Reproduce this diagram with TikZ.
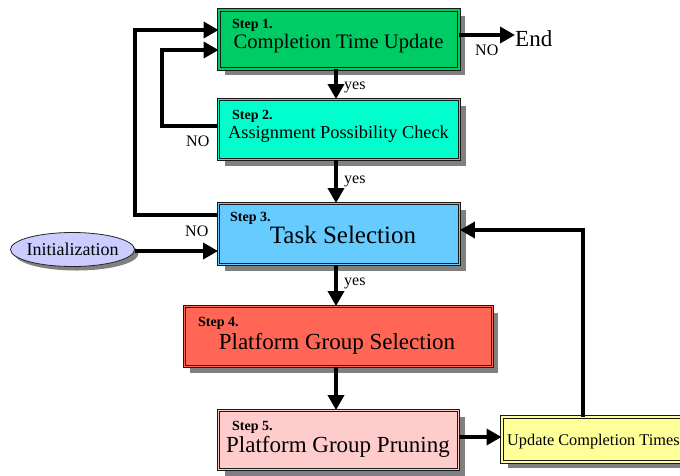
\documentclass[tikz,border=0pt]{standalone}
\usepackage{fontspec}
\setmainfont{Liberation Serif}
\usetikzlibrary{arrows.meta,shadows,shapes.geometric}

\definecolor{cgreen}{RGB}{0,204,102}
\definecolor{caqua}{RGB}{0,255,204}
\definecolor{csky}{RGB}{102,204,255}
\definecolor{csalmon}{RGB}{255,102,85}
\definecolor{cpink}{RGB}{255,204,204}
\definecolor{cyellow}{RGB}{255,255,153}
\definecolor{clav}{RGB}{204,204,255}
\definecolor{cshade}{RGB}{128,128,128}

\tikzset{
  stepbox/.style={draw=black!90, line width=0.9pt, double distance=1.3pt,
    inner sep=0pt, drop shadow={shadow xshift=6pt, shadow yshift=-6pt,
    fill=cshade, opacity=1}},
  ovalbox/.style={ellipse, draw=black!85, line width=0.8pt, inner sep=0pt,
    drop shadow={shadow xshift=4pt, shadow yshift=-4pt, fill=cshade, opacity=1}},
  lbl/.style={inner sep=0pt, anchor=base},
  steplbl/.style={inner sep=0pt, anchor=base west, font=\fontsize{14}{14}\selectfont\bfseries},
  small/.style={inner sep=0pt, anchor=base west, font=\fontsize{16}{16}\selectfont},
  arr/.style={line width=3.5pt, -{Triangle[length=15pt,width=16pt]}}
}

\begin{document}
\begin{tikzpicture}[x=1pt,y=-1pt]
\useasboundingbox (0,0) rectangle (680,475);

% process boxes
\node[stepbox, fill=cgreen, double=cgreen, minimum width=240pt, minimum height=59pt] (s1) at (339,39.5) {};
\node[stepbox, fill=caqua, double=caqua, minimum width=241pt, minimum height=60pt] (s2) at (339.3,129.5) {};
\node[stepbox, fill=csky, double=csky, minimum width=241pt, minimum height=61pt] (s3) at (339,234) {};
\node[stepbox, fill=csalmon, double=csalmon, minimum width=308pt, minimum height=60pt] (s4) at (338.3,336.5) {};
\node[stepbox, fill=cpink, double=cpink, minimum width=240pt, minimum height=59pt] (s5) at (338.5,440) {};
\node[stepbox, fill=cyellow, double=cyellow, minimum width=182pt, minimum height=45pt] (upd) at (593,439.5) {};
\node[ovalbox, fill=clav, minimum width=124pt, minimum height=34pt] (init) at (72.5,249.5) {};

% box texts
\node[steplbl] (t1a) at (232,28) {Step 1.};
\node[lbl, font=\fontsize{20.6}{20.6}\selectfont] (t1b) at (338.5,48) {Completion Time Update};
\node[steplbl] (t2a) at (232,119) {Step 2.};
\node[lbl, font=\fontsize{18.3}{18.3}\selectfont] (t2b) at (338.5,138) {Assignment Possibility Check};
\node[steplbl] (t3a) at (230,221) {Step 3.};
\node[lbl, font=\fontsize{25}{25}\selectfont] (t3b) at (343,243) {Task Selection};
\node[steplbl] (t4a) at (198,326) {Step 4.};
\node[lbl, font=\fontsize{23}{23}\selectfont] (t4b) at (337,349) {Platform Group Selection};
\node[steplbl] (t5a) at (232,430) {Step 5.};
\node[lbl, font=\fontsize{23}{23}\selectfont] (t5b) at (338,452) {Platform Group Pruning};
\node[inner sep=0pt, anchor=base west, font=\fontsize{16.3}{16.3}\selectfont] (t6) at (507,445) {Update Completion Times};
\node[lbl, font=\fontsize{18}{18}\selectfont] (t7) at (72.5,255) {Initialization};
\node[inner sep=0pt, anchor=base west, font=\fontsize{23}{23}\selectfont] (endt) at (515,46) {End};

% reference points for the connectors
\coordinate (ax) at (336,0);
\coordinate (lx1) at (162,0);
\coordinate (lx2) at (135,0);
\coordinate (rx) at (583,0);

% main flow
\draw[arr] (ax |- s1.south) -- (ax |- s2.north);
\draw[arr] (ax |- s2.south) -- (ax |- s3.north);
\draw[arr] (ax |- s3.south) -- (ax |- s4.north);
\draw[arr] (ax |- s4.south) -- (ax |- s5.north);
\draw[arr] (s5.east |- 0,437) -- (upd.west |- 0,437);
\draw[arr] (rx |- upd.north) -- (rx |- 0,230) -- (s3.east |- 0,230);
\draw[arr] (s1.east |- 0,35) -- (endt.west |- 0,35);
\draw[arr] (init.east |- 0,251) -- (s3.west |- 0,251);

% NO loops back to step 1
\draw[arr] (s2.west |- 0,126) -- (lx1 |- 0,126) -- (lx1 |- 0,50) -- (s1.west |- 0,50);
\draw[arr] (s3.west |- 0,215) -- (lx2 |- 0,215) -- (lx2 |- 0,30) -- (s1.west |- 0,30);

% connector labels
\node[small] (y1) at (344,89) {yes};
\node[small] (y2) at (344,183) {yes};
\node[small] (y3) at (344,285) {yes};
\node[small] (n1) at (475,55) {NO};
\node[small] (n2) at (186,146) {NO};
\node[small] (n3) at (185,236) {NO};
\end{tikzpicture}
\end{document}
